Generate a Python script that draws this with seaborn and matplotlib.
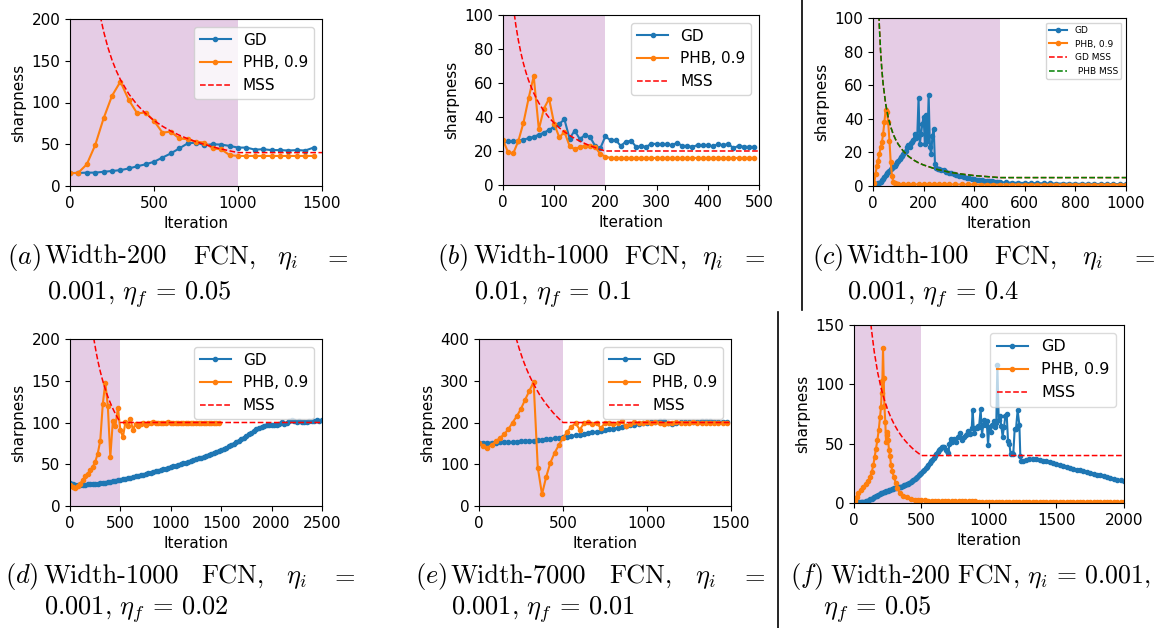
import matplotlib
matplotlib.use("Agg")
import matplotlib.pyplot as plt
import seaborn as sns
from matplotlib.lines import Line2D

# ---------------- data ----------------
# (a) Width-200 FCN
a_x = list(range(0, 1500, 50))
a_gd = [15.6, 15.6, 16, 16, 17, 18, 19, 21, 23.6, 26, 29, 34, 39, 45, 51, 52, 49, 50, 49.6, 48,
        46, 46, 43.6, 44, 43, 43, 42.5, 43, 42.5, 46]
a_phb = [15, 16, 26, 49, 81, 108, 125, 103, 87, 88, 78, 64, 65, 57, 56, 53, 52, 45, 44, 37,
         36, 36, 36, 36, 36, 36, 36, 36, 36, 36]
a_mss_x = [180, 200, 225, 250, 275, 300, 350, 400, 450, 500, 550, 600, 650, 700, 750, 800, 850, 900, 950, 1000, 1500]
a_mss = [203.7, 185.2, 166.3, 150.9, 138.2, 127.4, 110.2, 97.1, 86.8, 78.4, 71.6, 65.8, 60.9, 56.7, 53.0,
         49.8, 46.9, 44.3, 42.1, 40, 40]

# (b) Width-1000 FCN
b_x = list(range(0, 500, 10))
b_gd = [25.9, 25.7, 25.7, 26, 26.7, 27.5, 28.4, 29.6, 30.8, 32.4,
        34.3, 36, 38.6, 27.3, 32, 27, 29.4, 28.2, 23, 21.6,
        28.6, 26.3, 26.5, 23, 25.5, 26, 22.5, 22.7, 22.5, 24.3,
        24.1, 24, 24.1, 23.3, 24.9, 23, 23, 22.4, 23.5, 23.3,
        23.3, 22.7, 24.1, 23.3, 24.3, 21.6, 23.1, 22.5, 22.4, 22.4]
b_phb = [26.5, 19.2, 18.6, 25.9, 36.7, 51, 64, 32.7, 45, 50.8,
         35.9, 28, 31.2, 23, 21, 22.4, 23, 23, 22.4, 18.2,
         16.7, 15.9, 15.9, 15.9, 15.9, 15.9, 15.9, 15.9, 15.9, 15.9,
         15.9, 15.9, 15.9, 15.9, 15.9, 15.9, 15.9, 15.9, 15.9, 15.9,
         15.9, 15.9, 15.9, 15.9, 15.9, 15.9, 15.9, 15.9, 15.9, 15.9]
b_mss_x = [20, 25, 30, 35, 40, 45, 50, 60, 70, 80, 90, 100, 110, 120, 130, 140, 150, 160, 170, 180, 190, 200, 500]
b_mss = [105.3, 94.1, 85.1, 77.7, 71.4, 66.1, 61.5, 54.1, 48.2, 43.5, 39.6, 36.4, 33.6, 31.3, 29.2, 27.4,
         25.8, 24.4, 23.1, 22.0, 20.9, 20, 20]

# (c) Width-100 FCN
c_gd_x = (list(range(0, 261, 5)) + list(range(270, 501, 10)) + list(range(525, 1001, 25)))
c_gd = [1.0, 1.0, 1.1, 1.3, 1.5, 1.8, 2.5, 3.5, 4.4, 5.5, 6.8, 7.8, 8.5, 9.2, 10.0, 10.7, 11.5, 12.2,
        13.0, 14.0, 15.0, 16.0, 17.0, 18.0, 19.0, 20.0, 21.0, 23.0, 24.5, 23.5, 25.5, 26.0, 27.5, 31.0,
        28.5, 30.0, 52.5, 25.0, 31.0, 37.0, 41.0, 25.0, 42.0, 27.0, 54.0, 23.0, 19.0, 30.0, 34.0, 13.0,
        10.5, 10.2, 10.0,
        9.8, 9.4, 8.6, 8.0, 7.5, 7.0, 6.6, 6.2, 5.8, 5.4, 5.0, 4.7, 4.4, 4.1, 3.8, 3.6, 3.4, 3.2, 3.0,
        2.8, 2.7, 2.5, 2.4, 2.3,
        2.1, 2.0, 1.9, 1.8, 1.7, 1.65, 1.6, 1.5, 1.45, 1.4, 1.35, 1.3, 1.28, 1.25, 1.22, 1.2, 1.18,
        1.15, 1.12, 1.1]
c_phb_x = (list(range(0, 101, 5)) + list(range(120, 301, 20)) + list(range(325, 1001, 25)))
c_phb = [0.5, 2, 7, 12, 15, 19, 23, 26, 31, 38, 45.5, 44, 38, 27, 14, 6, 2.5, 1.8, 1.4, 1.2, 1.1,
         1.0, 1.0, 0.95, 0.95, 0.9, 0.9, 0.9, 0.9, 0.9, 0.9,
         0.9, 0.9, 0.9, 0.9, 0.88, 0.88, 0.88, 0.87, 0.87, 0.86, 0.86, 0.86, 0.85, 0.85, 0.85, 0.84,
         0.84, 0.84, 0.83, 0.83, 0.83, 0.82, 0.82, 0.82, 0.81, 0.81, 0.81, 0.8]
c_mss_x = [20, 25, 30, 35, 40, 50, 60, 70, 80, 90, 100, 120, 140, 160, 180, 200, 250, 300, 350, 400, 450, 500, 1000]
c_mss = [117.9, 95.5, 80.2, 69.1, 60.8, 48.9, 40.9, 35.2, 30.8, 27.5, 24.8, 20.7, 17.7, 15.5, 13.8,
         12.5, 10.0, 8.3, 7.1, 6.2, 5.6, 5.0, 5.0]

# (d) Width-1000 FCN
d_gd_x = list(range(0, 2501, 25))
d_gd = [27.0, 26.0, 25.5, 25.5, 25.5, 25.6, 25.7, 25.8, 26.0, 26.2, 26.4, 26.7, 27.0, 27.4, 27.9, 28.4,
        29.0, 29.6, 30.2, 30.8, 31.5, 32.1, 32.7, 33.3, 34.0, 34.7, 35.4, 36.2, 37.0, 37.7, 38.4, 39.2,
        40.0, 40.7, 41.5, 42.2, 43.0, 43.9, 44.8, 45.6, 46.5, 47.4, 48.2, 49.1, 50.0, 51.0, 52.0, 53.0,
        54.0, 55.0, 56.0, 57.0, 58.0, 59.1, 60.2, 61.4, 62.5, 63.6, 64.7, 65.8, 67.0, 68.5, 70.0, 71.5,
        73.0, 74.7, 76.4, 78.2, 80.0, 82.0, 84.0, 86.0, 88.0, 90.0, 92.0, 93.8, 95.0, 96.0, 96.5, 96.8,
        97.0, 97.5, 97.2, 98.5, 100.5, 98.0, 99.5, 101.5, 103.0, 102.0, 101.0, 101.5, 100.5, 101.0,
        100.8, 101.5, 102.0, 101.5, 102.5, 102.0, 102.5]
d_phb_x = list(range(0, 1500, 25))
d_phb = [24.8, 22.8, 22, 23.6, 26.8, 30.8, 35.6, 38.8, 42.8, 46.8, 52.8, 62.8, 78, 121.6, 147.6, 120,
         58.8, 101.6, 95.6, 117, 90.8, 82.4, 100.4, 96.4, 104, 90.8, 98.8, 95.6, 98, 99, 97.5, 100, 99,
         100.5, 99, 100, 99.5, 100, 99, 100.5,
         99.5, 100, 99.5, 100, 99.5, 100, 99.5, 100, 99, 100, 99.5, 100, 99.5, 100, 100, 99.5, 100, 100,
         100, 100]
d_mss_x = [235, 240, 260, 280, 300, 320, 340, 360, 380, 400, 420, 440, 460, 480, 500, 2500]
d_mss = [201.4, 197.6, 183.8, 171.8, 161.3, 152.0, 143.7, 136.2, 129.5, 123.5, 117.9, 112.9, 108.2,
         104.0, 100, 100]

# (e) Width-7000 FCN
e_x = list(range(0, 1500, 25))
e_gd = [152, 151.5, 151.5, 152, 152, 152.3, 152.6, 153, 153.5, 154, 154.6, 155.3, 156, 156.8, 157.6,
        158.5, 159.5, 160.5, 161.8, 163.2, 164.8, 166.3, 167.8, 169.3, 171, 172.7, 174.5, 176.3, 178,
        179.8, 181.5, 183.3, 185.5, 187.3, 189, 191, 193, 195, 196.8, 198.5, 200, 201.5, 202, 203.5, 204,
        199, 197.5, 200, 201, 200.5, 201.5, 201, 202, 203, 204, 202.5, 202, 201.5, 202, 202]
e_phb = [152, 144, 140, 145.6, 155, 163, 172, 184, 200, 215, 233, 255, 276, 297, 92, 28, 70, 104, 127,
         146, 163, 178, 190, 198, 183, 198, 202, 197, 200, 186, 199, 200, 196, 198, 203, 191, 196, 201,
         199, 198, 201, 199, 201, 199.5, 197, 200, 199, 201, 199.5, 200, 199, 200.5, 199.5, 200, 199,
         200, 199.5, 200, 199.5, 200]
e_mss_x = [220, 240, 260, 280, 300, 320, 340, 360, 380, 400, 420, 440, 460, 480, 500, 1500]
e_mss = [403.2, 376, 352, 331, 312.5, 296, 281, 267, 255, 244, 234, 224, 215.5, 207.5, 200, 200]

# (f) Width-200 FCN
f_gd_x = (list(range(0, 700, 10)) +
          [700, 706, 716, 726, 741, 756, 768, 785, 800, 812, 827, 842, 857, 872, 879, 889, 899, 909, 919,
           926, 938, 948, 958, 963, 975, 983, 993, 1002, 1012, 1025, 1035, 1044, 1054, 1062, 1072, 1081,
           1091, 1101, 1111, 1121, 1131, 1141, 1151, 1160, 1170, 1180, 1190, 1200, 1212, 1225, 1232, 1240] +
          list(range(1250, 2001, 25)))
f_gd = [1.0, 1.0, 1.0, 1.0, 1.0, 1.0, 1.0, 1.1, 1.2, 1.3, 1.5, 2.2, 3.0, 3.7, 4.4, 5.0, 5.6, 6.3, 7.0,
        7.7, 8.1, 8.5, 9.0, 9.4, 9.8, 10.3, 10.8, 11.2, 11.7, 12.1, 12.5, 12.8, 13.1, 13.3, 13.5, 13.9,
        14.3, 14.8, 15.3, 15.8, 16.4, 17.0, 17.6, 18.3, 19.1, 20.0, 21.0, 22.0, 23.2, 24.3, 25.5, 26.8,
        28.0, 29.3, 30.6, 32.0, 33.5, 35.0, 36.5, 38.2, 40.0, 41.5, 43.0, 44.5, 45.8, 47.0, 47.6, 47.0,
        45.0, 43.5,
        42.5, 50, 54, 51, 54, 51, 56, 59, 53.5, 55.7, 57, 61, 58.5, 62.8, 78, 59, 63, 62.8, 65, 64, 79,
        57.7, 65.6, 69.8, 65.6, 69, 49, 64, 60, 66, 69, 64, 67, 116, 70, 73, 65, 56, 64, 73, 74.6, 52, 50,
        41, 42, 41.6, 62, 62.5, 78, 66, 39.4, 35,
        35.5, 36.3, 37.2, 37.3, 36.9, 36.3, 35.6, 35.0, 34.2, 33.4, 32.6, 31.9, 31.1, 30.4, 29.6, 28.9,
        28.2, 27.4, 26.7, 26.0, 25.3, 24.6, 23.9, 23.2, 22.5, 21.8, 21.1, 20.4, 19.8, 19.1, 18.5]
f_phb_x = ([0, 10, 20, 32, 52, 69, 89, 106, 119, 131, 143, 153, 163, 173, 183, 193, 200, 205, 210, 215,
            220, 225, 232, 237, 242, 247, 252, 259, 267, 274, 284, 296, 309, 321, 341, 365, 390] +
           list(range(425, 2001, 25)))
f_phb = [0.3, 1.7, 5, 8.4, 10.7, 13.5, 16.3, 18.6, 22, 26, 31.8, 38.8, 45.9, 52.9, 61.3, 72.6, 81, 92.6,
         102.5, 130.4, 105, 82, 68.3, 51.5, 59.9, 57, 53.5, 44.9, 39.4, 32.4, 26.7, 21.7, 16.9, 12.4, 8.4,
         6.2, 5.1,
         3.1, 2.8, 2.5, 2.3, 2.15, 2.0, 1.9, 1.8, 1.7, 1.65, 1.6, 1.55, 1.5, 1.45, 1.4, 1.38, 1.35, 1.32,
         1.3, 1.28, 1.25, 1.23, 1.2, 1.18, 1.16, 1.14, 1.12, 1.1, 1.09, 1.08, 1.06, 1.05, 1.04, 1.03,
         1.02, 1.0, 0.99, 0.98, 0.97, 0.96, 0.95, 0.94, 0.93, 0.92, 0.91, 0.9, 0.9, 0.89, 0.88, 0.88,
         0.87, 0.86, 0.86, 0.85, 0.85, 0.84, 0.84, 0.83, 0.83, 0.82, 0.82, 0.81, 0.81, 0.8]
f_mss_x = [125, 130, 150, 175, 200, 225, 250, 275, 300, 325, 350, 375, 400, 425, 450, 475, 500, 2000]
f_mss = [150.9, 145.6, 127.4, 110.2, 97.1, 86.8, 78.4, 71.6, 65.8, 60.9, 56.7, 53.0, 49.8, 46.9, 44.3,
         42.1, 40, 40]

# ---------------- style ----------------
plt.rcParams['font.family'] = ['DejaVu Sans']
plt.rcParams['mathtext.fontset'] = 'cm'

BLUE = '#1f77b4'
ORANGE = '#ff7f0e'
W, H = 1164, 628

fig = plt.figure(figsize=(W / 100, H / 100), dpi=100)


def make_axes(l, t, r, b):
    return fig.add_axes([l / W, 1 - b / H, (r - l) / W, (b - t) / H])


def series(ax, x, y, color, label, ms=6, lw=1.5):
    sns.lineplot(x=x, y=y, ax=ax, color=color, label=label, marker='.', markersize=ms,
                 markeredgecolor=color, markeredgewidth=1, linewidth=lw,
                 estimator=None, sort=False)


def mss(ax, x, y, color, label):
    sns.lineplot(x=x, y=y, ax=ax, color=color, label=label, linestyle='--', linewidth=1.1,
                 estimator=None, sort=False)


def finish(ax, xlim, ylim, xticks, yticks, span, legsize=11, **legkw):
    ax.axvspan(span[0], span[1], color='purple', alpha=0.2, lw=0, zorder=0)
    ax.set_xlim(*xlim)
    ax.set_ylim(*ylim)
    ax.set_xticks(xticks)
    ax.set_yticks(yticks)
    ax.tick_params(labelsize=11)
    ax.set_xlabel('Iteration', fontsize=11)
    ax.set_ylabel('sharpness', fontsize=11)
    ax.legend(loc='upper right', fontsize=legsize, **legkw)


# (a)
ax = make_axes(70, 19, 322, 186)
series(ax, a_x, a_gd, BLUE, 'GD')
series(ax, a_x, a_phb, ORANGE, 'PHB, 0.9')
mss(ax, a_mss_x, a_mss, 'red', 'MSS')
finish(ax, (0, 1500), (0, 200), [0, 500, 1000, 1500], [0, 50, 100, 150, 200], (0, 1000))

# (b)
ax = make_axes(503, 15, 759, 185)
series(ax, b_x, b_gd, BLUE, 'GD')
series(ax, b_x, b_phb, ORANGE, 'PHB, 0.9')
mss(ax, b_mss_x, b_mss, 'red', 'MSS')
finish(ax, (0, 500), (0, 100), [0, 100, 200, 300, 400, 500], [0, 20, 40, 60, 80, 100], (0, 200))

# (c)
ax = make_axes(873, 18, 1126, 186)
series(ax, c_gd_x, c_gd, BLUE, 'GD')
series(ax, c_phb_x, c_phb, ORANGE, 'PHB, 0.9')
mss(ax, c_mss_x, c_mss, 'red', 'GD MSS')
mss(ax, c_mss_x, c_mss, 'green', ' PHB MSS')
finish(ax, (0, 1000), (0, 100), [0, 200, 400, 600, 800, 1000], [0, 20, 40, 60, 80, 100], (0, 500),
       legsize=6.5)

# (d)
ax = make_axes(70, 339, 322, 506)
series(ax, d_gd_x, d_gd, BLUE, 'GD')
series(ax, d_phb_x, d_phb, ORANGE, 'PHB, 0.9')
mss(ax, d_mss_x, d_mss, 'red', 'MSS')
finish(ax, (0, 2500), (0, 200), [0, 500, 1000, 1500, 2000, 2500], [0, 50, 100, 150, 200], (0, 500))

# (e)
ax = make_axes(479, 339, 731, 506)
series(ax, e_x, e_gd, BLUE, 'GD')
series(ax, e_x, e_phb, ORANGE, 'PHB, 0.9')
mss(ax, e_mss_x, e_mss, 'red', 'MSS')
finish(ax, (0, 1500), (0, 400), [0, 500, 1000, 1500], [0, 100, 200, 300, 400], (0, 500))

# (f)
ax = make_axes(854, 325, 1124, 503)
series(ax, f_gd_x, f_gd, BLUE, 'GD')
series(ax, f_phb_x, f_phb, ORANGE, 'PHB, 0.9')
mss(ax, f_mss_x, f_mss, 'red', 'MSS')
finish(ax, (0, 2000), (0, 150), [0, 500, 1000, 1500, 2000], [0, 50, 100, 150], (0, 500),
       legsize=11.5, framealpha=0.7)

# ---------------- captions ----------------
CAP = 19


def ctext(x, y, s, size=CAP):
    fig.text(x / W, 1 - y / H, s, fontsize=size, family='cmr10', ha='left', va='baseline')


captions = [
    # (label, x positions of words, words, baseline1, line2 x, line2 text, baseline2)
    (r'$(a)$', [7, 45, 193, 277, 323], 'Width-200', 264, 47, r'$0.001,\,\eta_f\,=\,0.05$', 300),
    (r'$(b)$', [437, 474, 624, 702, 740], 'Width-1000', 264, 474, r'$0.01,\,\eta_f\,=\,0.1$', 300),
    (r'$(c)$', [812, 847, 994, 1082, 1130], 'Width-100', 264, 847, r'$0.001,\,\eta_f\,=\,0.4$', 300),
    (r'$(d)$', [5, 44, 201, 286, 330], 'Width-1000', 583, 44, r'$0.001,\,\eta_f\,=\,0.02$', 615),
    (r'$(e)$', [415, 451, 609, 695, 740], 'Width-7000', 583, 451, r'$0.001,\,\eta_f\,=\,0.01$', 615),
]
for lab, xs, width, y1, x2, line2, y2 in captions:
    ctext(xs[0], y1, lab)
    ctext(xs[1], y1, width)
    ctext(xs[2], y1, 'FCN,')
    ctext(xs[3], y1, r'$\eta_i$')
    ctext(xs[4], y1, r'$=$')
    ctext(x2, y2, line2)

ctext(790, 583, r'$(f)$')
ctext(830, 583, r'Width-200 FCN, $\eta_i\,=\,0.001,$', size=18.5)
ctext(823, 615, r'$\eta_f\,=\,0.05$')

# separators
fig.add_artist(Line2D([802 / W, 802 / W], [1.0, 1 - 310 / H], transform=fig.transFigure,
                      color='black', lw=1.2))
fig.add_artist(Line2D([778 / W, 778 / W], [1 - 312 / H, 0.0], transform=fig.transFigure,
                      color='black', lw=1.2))

fig.savefig('out.png', dpi=100)
